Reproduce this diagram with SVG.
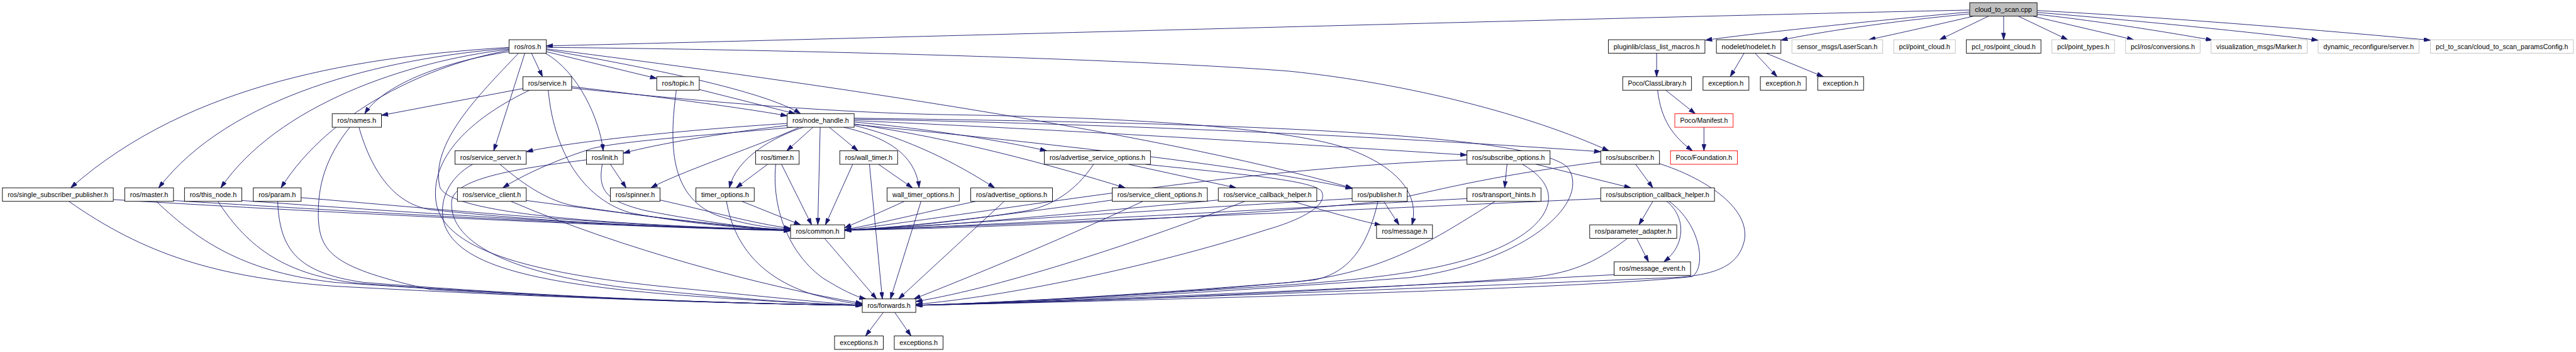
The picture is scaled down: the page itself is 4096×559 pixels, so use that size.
<svg xmlns="http://www.w3.org/2000/svg" width="4096" height="559" viewBox="0 0 4096 559">
<style>
.node rect{fill:#fff;stroke:#000;stroke-width:1.2}
.node.gray rect{stroke:#bfbfbf}
.node.red rect{stroke:#ff0000}
.node.root rect{fill:#bfbfbf}
.node text{font-family:"Liberation Sans","DejaVu Sans",sans-serif;font-size:14px;fill:#000;text-anchor:middle}
#edges path{fill:none;stroke:#191970;stroke-width:1.2;marker-end:url(#ah)}
</style>
<defs>
<marker id="ah" viewBox="0 0 14 9" refX="14" refY="4.5" markerWidth="14" markerHeight="9" markerUnits="userSpaceOnUse" orient="auto">
<path d="M0,0 L14,4.5 L0,9 z" fill="#191970" stroke="#191970" stroke-width="1"/>
</marker>
</defs>
<rect width="4096" height="559" fill="#fff"/>
<g transform="scale(0.76)">
<g id="edges">
<path d="M4121,21 C3500,34 2000,75 1143,96"/>
<path d="M4121,25 C3900,45 3650,72 3568,84"/>
<path d="M4121,29 C3950,45 3800,68 3726,84"/>
<path d="M4128,34 C4060,50 3970,70 3910,83"/>
<path d="M4160,34 L4058,83"/>
<path d="M4192,34 L4192,83"/>
<path d="M4223,34 L4326,83"/>
<path d="M4254,34 L4464,83"/>
<path d="M4262,30 C4400,45 4550,70 4629,84"/>
<path d="M4262,26 C4500,45 4750,72 4850,84"/>
<path d="M4262,22 C4600,40 4950,72 5085,84"/>
<path d="M3466,111.2 L3466,160.3"/>
<path d="M3649,111.2 L3620,160.3"/>
<path d="M3672,111.2 L3718,160.3"/>
<path d="M3695,111.2 L3815,160.3"/>
<path d="M3485,188.5 L3547,237.7"/>
<path d="M3468,188.5 C3475,250 3500,285 3541,315.1"/>
<path d="M3565,265.9 L3565,315.1"/>
<path d="M1065,99 C760,118 400,170 148,392.5"/>
<path d="M1065,101 C800,122 480,200 332,392.5"/>
<path d="M1065,103 C850,128 580,220 462,392.5"/>
<path d="M1065,105 C900,135 690,230 588,392.5"/>
<path d="M1065,108 C920,130 800,180 763,237.7"/>
<path d="M1112,111.2 L1135,160.3"/>
<path d="M1098,111.2 L1033,315.1"/>
<path d="M1141,111.2 C1210,150 1255,250 1262,315.1"/>
<path d="M1143,108 L1374,164"/>
<path d="M1143,104 C1350,140 1600,190 1675,237.7"/>
<path d="M1143,102 C1600,160 2400,270 2829,393"/>
<path d="M1143,99 C1700,104 2400,125 2700,149 C2950,175 3200,240 3366,315.1"/>
<path d="M1085,111.2 C1000,200 900,300 920,390 C940,450 1300,470 1654,481"/>
<path d="M1094,185 L798,241"/>
<path d="M1196,181 C1400,205 1550,225 1647,242"/>
<path d="M1147,188.5 C1160,330 1230,420 1320,445 C1450,470 1580,478 1654,482"/>
<path d="M1108,188.5 C1000,240 900,320 912,420 C925,520 1100,570 1400,600 C1600,620 1750,635 1804,638"/>
<path d="M1196,184 C1500,215 1750,236 2000,240 C2400,246 2700,270 2818,310 C2930,350 2970,410 2954,469.8"/>
<path d="M1463,187 L1664,237.7"/>
<path d="M1415,188.5 C1400,300 1400,410 1500,450 C1560,470 1620,478 1654,478"/>
<path d="M751,265.9 C775,350 820,425 900,438 C1200,470 1500,478 1654,482"/>
<path d="M732,265.9 C680,330 665,390 666,450 C667,530 700,560 900,605 C1300,630 1700,637 1804,638"/>
<path d="M1647,258 C1450,270 1200,295 1101,317"/>
<path d="M1647,262 C1500,280 1380,300 1304,320"/>
<path d="M1658,265.9 C1450,285 1300,295 1240,310 C1160,335 1090,368 1052,392.5"/>
<path d="M1672,265.9 C1600,300 1420,360 1362,392.5"/>
<path d="M1681,265.9 C1620,285 1540,330 1526,392.5"/>
<path d="M1701,265.9 L1646,315.1"/>
<path d="M1716,265.9 L1711,469.8"/>
<path d="M1735,265.9 L1795,315.1"/>
<path d="M1765,265.9 C1850,285 1915,320 1923,392.5"/>
<path d="M1787,262 C1900,290 2000,340 2081,392.5"/>
<path d="M1787,255 C1950,270 2100,295 2190,315.1"/>
<path d="M1787,259 C2000,290 2200,345 2354,392.5"/>
<path d="M1787,252 C2200,270 2700,300 3069,324"/>
<path d="M1787,249 C2300,258 2900,285 3349,317"/>
<path d="M1787,260 C2200,300 2600,345 2829,394"/>
<path d="M1787,247 C2400,255 3200,270 3280,350 C3330,420 3200,545 2950,580 C2500,615 2100,635 1916,638"/>
<path d="M237,417 C600,440 1300,475 1654,482"/>
<path d="M144,420.7 C300,530 450,580 700,598 C1200,625 1600,636 1804,638"/>
<path d="M363,419 C700,440 1300,475 1654,481"/>
<path d="M327,420.7 C420,510 520,570 700,590 C1200,625 1600,636 1804,638"/>
<path d="M506,419 C800,440 1300,475 1654,481"/>
<path d="M456,420.7 C520,520 600,575 750,592 C1200,625 1600,636 1804,638"/>
<path d="M630,413 C900,435 1300,475 1654,481"/>
<path d="M581,420.7 C585,520 620,570 760,590 C1200,625 1600,636 1804,638"/>
<path d="M1046,343.3 C1100,390 1150,420 1200,430 C1400,460 1550,476 1654,481"/>
<path d="M989,343.3 C940,370 915,420 930,470 C960,550 1100,590 1400,615 C1600,630 1750,637 1804,638"/>
<path d="M1277,343.3 L1310,392.5"/>
<path d="M1260,343.3 C1250,400 1270,420 1350,440 C1480,465 1580,478 1654,481"/>
<path d="M1227,334 C1100,350 950,370 945,420 C940,480 1000,560 1300,600 C1550,625 1700,636 1804,638"/>
<path d="M1101,419 C1300,445 1500,472 1654,481"/>
<path d="M1069,420.7 C1300,520 1600,600 1804,634"/>
<path d="M1381,418 C1480,440 1580,468 1654,477"/>
<path d="M1606,343.3 L1540,392.5"/>
<path d="M1635,343.3 L1698,469.8"/>
<path d="M1623,343.3 C1615,420 1640,520 1720,580 C1760,605 1790,620 1812,624.6"/>
<path d="M1552,420.7 L1675,469.8"/>
<path d="M1520,420.7 C1535,510 1590,580 1700,615 C1750,628 1780,634 1804,636"/>
<path d="M1784,343.3 L1727,469.8"/>
<path d="M1838,343.3 L1909,392.5"/>
<path d="M1819,343.3 L1846,624.6"/>
<path d="M1892,420.7 C1850,440 1800,462 1767,476"/>
<path d="M1927,420.7 L1863,624.6"/>
<path d="M2041,420.7 C1950,440 1850,465 1767,480"/>
<path d="M2101,420.7 L1880,624.6"/>
<path d="M2288,343.3 C2250,400 2200,430 2150,440 C2000,465 1850,477 1767,481"/>
<path d="M2361,343.3 L2586,392.5"/>
<path d="M2397,343.3 C2550,360 2750,375 2765,400 C2780,430 2720,460 2650,480 C2400,560 2100,620 1916,636"/>
<path d="M2327,418 C2100,450 1900,475 1767,481"/>
<path d="M2391,420.7 C2200,510 2000,590 1912,624.6"/>
<path d="M2549,418 C2200,450 1950,475 1767,481"/>
<path d="M2604,420.7 C2400,500 2100,600 1916,630"/>
<path d="M2704,420.7 C2770,440 2840,460 2890,471"/>
<path d="M2895,420.7 L2927,469.8"/>
<path d="M2829,415 C2400,440 1900,475 1767,481"/>
<path d="M2883,420.7 C2860,520 2820,570 2750,585 C2400,620 2050,634 1916,638"/>
<path d="M3153,343.3 L3148,392.5"/>
<path d="M3214,343.3 L3412,392.5"/>
<path d="M3069,334 C2600,350 2100,440 1767,481"/>
<path d="M3185,343.3 C3250,380 3260,430 3200,480 C3100,560 2900,580 2700,595 C2300,622 2050,634 1916,638"/>
<path d="M3069,415 C2600,440 2000,475 1767,481"/>
<path d="M3128,420.7 C3000,500 2900,570 2700,590 C2300,622 2050,634 1916,638"/>
<path d="M3422,343.3 L3458,392.5"/>
<path d="M3349,338 C3100,370 3000,400 2900,420 C2500,460 2000,478 1767,481"/>
<path d="M3472,342 C3560,370 3660,430 3650,500 C3640,550 3600,575 3500,580 C2800,610 2200,632 1916,638"/>
<path d="M3458,420.7 L3429,469.8"/>
<path d="M3487,420.7 C3525,450 3530,510 3481,547.2"/>
<path d="M3492,420.7 C3560,470 3570,560 3540,578 C3300,605 2300,630 1916,638"/>
<path d="M3349,415 C2800,440 2000,475 1767,481"/>
<path d="M3424,498 L3449,547.2"/>
<path d="M3405,498 C3350,540 3300,570 3200,580 C2700,615 2200,632 1916,638"/>
<path d="M3377,574 C3000,595 2300,628 1916,638"/>
<path d="M1725,498 L1834,624.6"/>
<path d="M1848,652.8 L1811,701.9"/>
<path d="M1872,652.8 L1906,701.9"/>
</g>
<g id="n_cloud" class="node root"><rect x="4121" y="5.6" width="141" height="28.2"/><text x="4191.5" y="24.6" textLength="119" lengthAdjust="spacingAndGlyphs">cloud_to_scan.cpp</text></g>
<g id="n_ros" class="node"><rect x="1065" y="83" width="78" height="28.2"/><text x="1104" y="102" textLength="56" lengthAdjust="spacingAndGlyphs">ros/ros.h</text></g>
<g id="n_clm" class="node"><rect x="3365" y="83" width="202" height="28.2"/><text x="3466" y="102" textLength="180" lengthAdjust="spacingAndGlyphs">pluginlib/class_list_macros.h</text></g>
<g id="n_nodelet" class="node"><rect x="3591" y="83" width="135" height="28.2"/><text x="3658.5" y="102" textLength="113" lengthAdjust="spacingAndGlyphs">nodelet/nodelet.h</text></g>
<g id="n_laser" class="node gray"><rect x="3749" y="83" width="190" height="28.2"/><text x="3844" y="102" textLength="168" lengthAdjust="spacingAndGlyphs">sensor_msgs/LaserScan.h</text></g>
<g id="n_pclpc" class="node gray"><rect x="3962" y="83" width="129" height="28.2"/><text x="4026.5" y="102" textLength="107" lengthAdjust="spacingAndGlyphs">pcl/point_cloud.h</text></g>
<g id="n_pclrospc" class="node"><rect x="4114" y="83" width="156" height="28.2"/><text x="4192" y="102" textLength="134" lengthAdjust="spacingAndGlyphs">pcl_ros/point_cloud.h</text></g>
<g id="n_pclpt" class="node gray"><rect x="4293" y="83" width="131" height="28.2"/><text x="4358.5" y="102" textLength="109" lengthAdjust="spacingAndGlyphs">pcl/point_types.h</text></g>
<g id="n_pclconv" class="node gray"><rect x="4447" y="83" width="156" height="28.2"/><text x="4525" y="102" textLength="134" lengthAdjust="spacingAndGlyphs">pcl/ros/conversions.h</text></g>
<g id="n_marker" class="node gray"><rect x="4626" y="83" width="201" height="28.2"/><text x="4726.5" y="102" textLength="179" lengthAdjust="spacingAndGlyphs">visualization_msgs/Marker.h</text></g>
<g id="n_dynrec" class="node gray"><rect x="4850" y="83" width="211" height="28.2"/><text x="4955.5" y="102" textLength="189" lengthAdjust="spacingAndGlyphs">dynamic_reconfigure/server.h</text></g>
<g id="n_config" class="node gray"><rect x="5085" y="83" width="299" height="28.2"/><text x="5234.5" y="102" textLength="277" lengthAdjust="spacingAndGlyphs">pcl_to_scan/cloud_to_scan_paramsConfig.h</text></g>
<g id="n_service" class="node"><rect x="1094" y="160.3" width="102" height="28.2"/><text x="1145" y="179.3" textLength="80" lengthAdjust="spacingAndGlyphs">ros/service.h</text></g>
<g id="n_topic" class="node"><rect x="1374" y="160.3" width="89" height="28.2"/><text x="1418.5" y="179.3" textLength="67" lengthAdjust="spacingAndGlyphs">ros/topic.h</text></g>
<g id="n_classlib" class="node"><rect x="3395" y="160.3" width="144" height="28.2"/><text x="3467" y="179.3" textLength="122" lengthAdjust="spacingAndGlyphs">Poco/ClassLibrary.h</text></g>
<g id="n_exc1" class="node"><rect x="3563" y="160.3" width="96" height="28.2"/><text x="3611" y="179.3" textLength="74" lengthAdjust="spacingAndGlyphs">exception.h</text></g>
<g id="n_exc2" class="node"><rect x="3683" y="160.3" width="96" height="28.2"/><text x="3731" y="179.3" textLength="74" lengthAdjust="spacingAndGlyphs">exception.h</text></g>
<g id="n_exc3" class="node"><rect x="3803" y="160.3" width="96" height="28.2"/><text x="3851" y="179.3" textLength="74" lengthAdjust="spacingAndGlyphs">exception.h</text></g>
<g id="n_names" class="node"><rect x="695" y="237.7" width="103" height="28.2"/><text x="746.5" y="256.7" textLength="81" lengthAdjust="spacingAndGlyphs">ros/names.h</text></g>
<g id="n_nh" class="node"><rect x="1647" y="237.7" width="140" height="28.2"/><text x="1717" y="256.7" textLength="118" lengthAdjust="spacingAndGlyphs">ros/node_handle.h</text></g>
<g id="n_manifest" class="node red"><rect x="3504" y="237.7" width="122" height="28.2"/><text x="3565" y="256.7" textLength="100" lengthAdjust="spacingAndGlyphs">Poco/Manifest.h</text></g>
<g id="n_ssrv" class="node"><rect x="952" y="315.1" width="149" height="28.2"/><text x="1026.5" y="334.1" textLength="127" lengthAdjust="spacingAndGlyphs">ros/service_server.h</text></g>
<g id="n_init" class="node"><rect x="1227" y="315.1" width="77" height="28.2"/><text x="1265.5" y="334.1" textLength="55" lengthAdjust="spacingAndGlyphs">ros/init.h</text></g>
<g id="n_timer" class="node"><rect x="1581" y="315.1" width="91" height="28.2"/><text x="1626.5" y="334.1" textLength="69" lengthAdjust="spacingAndGlyphs">ros/timer.h</text></g>
<g id="n_wtimer" class="node"><rect x="1757" y="315.1" width="121" height="28.2"/><text x="1817.5" y="334.1" textLength="99" lengthAdjust="spacingAndGlyphs">ros/wall_timer.h</text></g>
<g id="n_aso" class="node"><rect x="2185" y="315.1" width="222" height="28.2"/><text x="2296" y="334.1" textLength="200" lengthAdjust="spacingAndGlyphs">ros/advertise_service_options.h</text></g>
<g id="n_subopt" class="node"><rect x="3069" y="315.1" width="174" height="28.2"/><text x="3156" y="334.1" textLength="152" lengthAdjust="spacingAndGlyphs">ros/subscribe_options.h</text></g>
<g id="n_subscriber" class="node"><rect x="3349" y="315.1" width="123" height="28.2"/><text x="3410.5" y="334.1" textLength="101" lengthAdjust="spacingAndGlyphs">ros/subscriber.h</text></g>
<g id="n_foundation" class="node red"><rect x="3495" y="315.1" width="140" height="28.2"/><text x="3565" y="334.1" textLength="118" lengthAdjust="spacingAndGlyphs">Poco/Foundation.h</text></g>
<g id="n_ssp" class="node"><rect x="5" y="392.5" width="232" height="28.2"/><text x="121" y="411.5" textLength="210" lengthAdjust="spacingAndGlyphs">ros/single_subscriber_publisher.h</text></g>
<g id="n_master" class="node"><rect x="261" y="392.5" width="102" height="28.2"/><text x="312" y="411.5" textLength="80" lengthAdjust="spacingAndGlyphs">ros/master.h</text></g>
<g id="n_thisnode" class="node"><rect x="386" y="392.5" width="120" height="28.2"/><text x="446" y="411.5" textLength="98" lengthAdjust="spacingAndGlyphs">ros/this_node.h</text></g>
<g id="n_param" class="node"><rect x="530" y="392.5" width="100" height="28.2"/><text x="580" y="411.5" textLength="78" lengthAdjust="spacingAndGlyphs">ros/param.h</text></g>
<g id="n_sclient" class="node"><rect x="957" y="392.5" width="144" height="28.2"/><text x="1029" y="411.5" textLength="122" lengthAdjust="spacingAndGlyphs">ros/service_client.h</text></g>
<g id="n_spinner" class="node"><rect x="1277" y="392.5" width="104" height="28.2"/><text x="1329" y="411.5" textLength="82" lengthAdjust="spacingAndGlyphs">ros/spinner.h</text></g>
<g id="n_topt" class="node"><rect x="1456" y="392.5" width="122" height="28.2"/><text x="1517" y="411.5" textLength="100" lengthAdjust="spacingAndGlyphs">timer_options.h</text></g>
<g id="n_wtopt" class="node"><rect x="1856" y="392.5" width="151" height="28.2"/><text x="1931.5" y="411.5" textLength="129" lengthAdjust="spacingAndGlyphs">wall_timer_options.h</text></g>
<g id="n_advopt" class="node"><rect x="2031" y="392.5" width="171" height="28.2"/><text x="2116.5" y="411.5" textLength="149" lengthAdjust="spacingAndGlyphs">ros/advertise_options.h</text></g>
<g id="n_sco" class="node"><rect x="2327" y="392.5" width="199" height="28.2"/><text x="2426.5" y="411.5" textLength="177" lengthAdjust="spacingAndGlyphs">ros/service_client_options.h</text></g>
<g id="n_scbh" class="node"><rect x="2549" y="392.5" width="206" height="28.2"/><text x="2652" y="411.5" textLength="184" lengthAdjust="spacingAndGlyphs">ros/service_callback_helper.h</text></g>
<g id="n_pub" class="node"><rect x="2829" y="392.5" width="115" height="28.2"/><text x="2886.5" y="411.5" textLength="93" lengthAdjust="spacingAndGlyphs">ros/publisher.h</text></g>
<g id="n_th" class="node"><rect x="3069" y="392.5" width="155" height="28.2"/><text x="3146.5" y="411.5" textLength="133" lengthAdjust="spacingAndGlyphs">ros/transport_hints.h</text></g>
<g id="n_subcbh" class="node"><rect x="3349" y="392.5" width="238" height="28.2"/><text x="3468" y="411.5" textLength="216" lengthAdjust="spacingAndGlyphs">ros/subscription_callback_helper.h</text></g>
<g id="n_common" class="node"><rect x="1654" y="469.8" width="113" height="28.2"/><text x="1710.5" y="488.8" textLength="91" lengthAdjust="spacingAndGlyphs">ros/common.h</text></g>
<g id="n_message" class="node"><rect x="2880" y="469.8" width="117" height="28.2"/><text x="2938.5" y="488.8" textLength="95" lengthAdjust="spacingAndGlyphs">ros/message.h</text></g>
<g id="n_padapt" class="node"><rect x="3326" y="469.8" width="182" height="28.2"/><text x="3417" y="488.8" textLength="160" lengthAdjust="spacingAndGlyphs">ros/parameter_adapter.h</text></g>
<g id="n_msgevent" class="node"><rect x="3377" y="547.2" width="160" height="28.2"/><text x="3457" y="566.2" textLength="138" lengthAdjust="spacingAndGlyphs">ros/message_event.h</text></g>
<g id="n_forwards" class="node"><rect x="1804" y="624.6" width="112" height="28.2"/><text x="1860" y="643.6" textLength="90" lengthAdjust="spacingAndGlyphs">ros/forwards.h</text></g>
<g id="n_excs1" class="node"><rect x="1746" y="701.9" width="102" height="28.2"/><text x="1797" y="720.9" textLength="80" lengthAdjust="spacingAndGlyphs">exceptions.h</text></g>
<g id="n_excs2" class="node"><rect x="1871" y="701.9" width="102" height="28.2"/><text x="1922" y="720.9" textLength="80" lengthAdjust="spacingAndGlyphs">exceptions.h</text></g>
</g>
</svg>
